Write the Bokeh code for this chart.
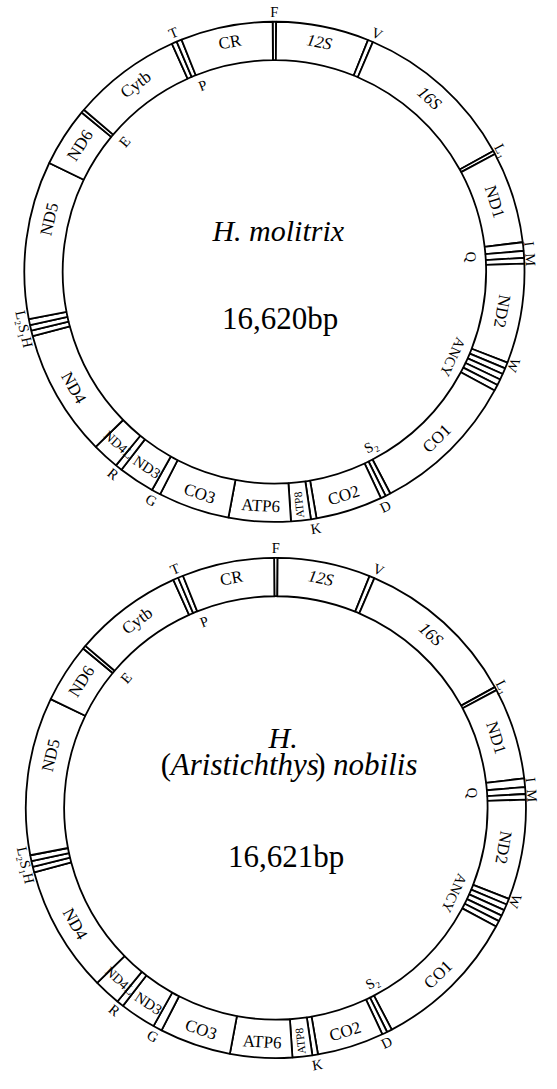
import numpy as np
from bokeh.plotting import figure
from bokeh.models import ColumnDataSource, Range1d
from bokeh.core.properties import value
from bokeh.embed import file_html
from bokeh.resources import INLINE

# ---- data (clockwise degrees from the top, F at 0) ----
seg_names = ["F", "12S", "V", "16S", "L1", "ND1", "I", "Q", "M", "ND2",
             "W", "A", "N", "C", "Y", "CO1", "S2", "D", "CO2", "K",
             "ATP8", "ATP6", "CO3", "G", "ND3", "R", "ND4L", "ND4",
             "H", "S1", "L2", "ND5", "ND6", "E", "Cytb", "T", "P", "CR"]
seg_start = [-0.4, 0.4, 22.0, 23.2, 61.1, 61.9, 83.2, 85.2, 86.8, 88.1,
             111.3, 112.7, 114.1, 115.5, 116.9, 118.3, 152.4, 153.6, 154.8, 170.3,
             171.6, 176.2, 190.6, 207.2, 209.3, 217.7, 219.3, 225.6,
             255.1, 256.4, 257.7, 259.1, 295.8, 309.6, 310.4, 335.8, 337.0, 338.2]

gene_labels = ["12S", "16S", "ND1", "ND2", "CO1", "CO2", "ATP8", "ATP6", "CO3",
               "ND3", "ND4L", "ND4", "ND5", "ND6", "Cytb", "CR"]
gene_label_deg = {"ND5": 283.0}   # labels not at their segment's middle

trna_text = ["F", "V", "L\u2081", "I", "M", "Q", "W", "ANCY", "S\u2082", "D",
             "K", "G", "R", "L\u2082S\u2081H", "E", "T", "P"]
trna_deg = [0.0, 23.6, 62.3, 83.8, 87.3, 85.7, 111.0, 115.2, 150.7, 154.4,
            170.7, 208.7, 219.0, 257.3, 310.6, 336.8, 338.7]
trna_side = ["out", "out", "out", "out", "out", "in", "out", "in", "in", "out",
             "out", "out", "out", "out", "in", "out", "in"]

genome_size = ["16,620bp", "16,621bp"]

# ---- layout (reference pixel coordinates, y measured from the top) ----
W, H = 557, 1089
centers = [(282.0, 275.4), (283.5, 819.5)]
R_OUT, R_IN = 257.5, 218.0

FONT = value("Liberation Serif")

p = figure(width=W - 16, height=H - 16, x_range=Range1d(0, W),
           y_range=Range1d(0, H), x_axis_type=None, y_axis_type=None,
           toolbar_location=None, output_backend="svg", min_border=0,
           background_fill_color="white", border_fill_color="white")
p.outline_line_color = None
p.grid.visible = False


def Y(yref):
    return H - yref


def rot(c):
    th = 90.0 - c
    cc = c % 360
    if 120 < cc < 270:
        return np.radians(th + 90)
    return np.radians(th - 90)


def txt(x, yref, s, size, style="normal", align="center"):
    p.text(x=[x], y=[Y(yref)], text=[s], text_font=FONT, text_font_size=size,
           text_font_style=style, text_align=align, text_baseline="alphabetic",
           text_color="black")


starts = np.array(seg_start)
ends = np.array(seg_start[1:] + [seg_start[0] + 360])
mids = (starts + ends) / 2

for k, (cx, cyr) in enumerate(centers):
    cy = Y(cyr)
    n = len(seg_names)
    src = ColumnDataSource(dict(x=[cx] * n, y=[cy] * n,
                                s=np.radians(90 - ends), e=np.radians(90 - starts)))
    p.annular_wedge(x="x", y="y", inner_radius=R_IN, outer_radius=R_OUT,
                    start_angle="s", end_angle="e", fill_color="white",
                    line_color="black", line_width=1.8, source=src)

    # gene labels
    gx, gy, ga, gs, gf = [], [], [], [], []
    rm = (R_IN + R_OUT) / 2
    for g in gene_labels:
        i = seg_names.index(g)
        c = gene_label_deg.get(g, mids[i])
        th = np.radians(90 - c)
        gx.append(cx + rm * np.cos(th))
        gy.append(cy + rm * np.sin(th))
        a = rot(c)
        if g == "ATP8":
            a += np.pi / 2
        ga.append(a)
        gs.append({"ATP8": "11.5px", "ND4L": "13.5px", "ND3": "15px"}.get(g, "17px"))
        gf.append("italic" if g in ("12S", "16S") else "normal")
    gsrc = ColumnDataSource(dict(x=gx, y=gy, a=ga, t=gene_labels, s=gs, f=gf))
    p.text(x="x", y="y", text="t", angle="a", text_font=FONT,
           text_font_size="s", text_font_style="f", text_align="center",
           text_baseline="middle", text_color="black", source=gsrc)

    # tRNA labels
    tx, ty, ta = [], [], []
    for t, c, sd in zip(trna_text, trna_deg, trna_side):
        r = R_OUT + 6.5 if sd == "out" else R_IN - 15
        th = np.radians(90 - c)
        tx.append(cx + r * np.cos(th))
        ty.append(cy + r * np.sin(th))
        ta.append(rot(c))
    tsrc = ColumnDataSource(dict(x=tx, y=ty, a=ta, t=trna_text))
    p.text(x="x", y="y", text="t", angle="a", text_font=FONT,
           text_font_size="14.5px", text_align="center", text_baseline="middle",
           text_color="black", source=tsrc)

# centre texts
txt(286, 233, "H. molitrix", "30px", "italic")
txt(288, 323, genome_size[0], "31px")
txt(291, 748, "H.", "30px", "italic")
txt(165, 775, "(", "31px", "normal", "left")
txt(175.3, 775, "Aristichthys", "31px", "italic", "left")
txt(324, 775, ")", "31px", "normal", "left")
txt(342.4, 775, "nobilis", "31px", "italic", "left")
txt(294, 869, genome_size[1], "31px")

open("out.html", "w").write(file_html(p, INLINE))
